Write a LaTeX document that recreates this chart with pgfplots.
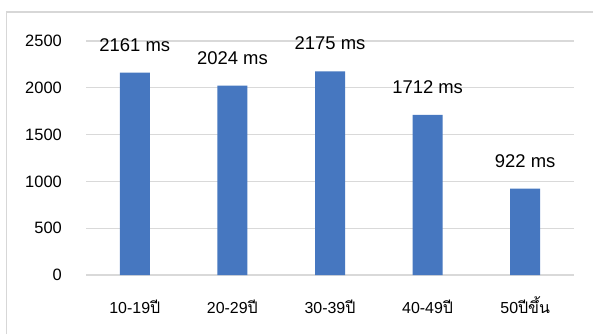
\documentclass[border=0pt]{standalone}
\usepackage{fontspec}
\setmainfont{Liberation Sans}
\newfontfamily\thaifont[Script=Thai]{Loma}
\usepackage{pgfplots}
\pgfplotsset{compat=1.18}
\definecolor{barblue}{RGB}{70,119,192}
\definecolor{gridgray}{RGB}{217,217,217}
\definecolor{framegray}{RGB}{215,215,215}
\begin{document}
\begin{tikzpicture}[x=1bp,y=1bp]
  % page area and outer chart frame
  \fill[white] (0,0) rectangle (593,334);
  \useasboundingbox (0,0) rectangle (593,334);
  \draw[framegray, line width=1.2bp] (6.7,0) -- (6.7,322) -- (593,322);
  \begin{axis}[
    at={(86bp,59bp)}, anchor=south west,
    scale only axis, width=488bp, height=234bp,
    ybar, bar width=30bp,
    xmin=-0.5, xmax=4.5, ymin=0, ymax=2500,
    xtick=data,
    xticklabels={10-19{\thaifont ปี}, 20-29{\thaifont ปี}, 30-39{\thaifont ปี}, 40-49{\thaifont ปี}, 50{\thaifont ปีขึ้น}},
    ytick={0,500,...,2500},
    axis line style={draw=none},
    major tick length=0pt,
    ymajorgrids, grid style={gridgray, line width=1.2bp},
    yticklabel style={font=\fontsize{16.5}{18}\selectfont, anchor=east, inner sep=0pt, xshift=-24bp},
    xticklabel style={font=\fontsize{16}{18}\selectfont, anchor=base, inner sep=0pt, yshift=-38bp},
    /pgf/number format/assume math mode=true,
    /pgf/number format/1000 sep={},
    nodes near coords={\pgfmathprintnumber[1000 sep={}]{\pgfplotspointmeta} ms},
    every node near coord/.append style={font=\fontsize{18.5}{20}\selectfont, anchor=base, inner sep=0pt, yshift=21.5bp, black},
  ]
    \addplot[fill=barblue, draw=none] coordinates {
      (0,2161) (1,2024) (2,2175) (3,1712) (4,922)
    };
  \end{axis}
\end{tikzpicture}
\end{document}
